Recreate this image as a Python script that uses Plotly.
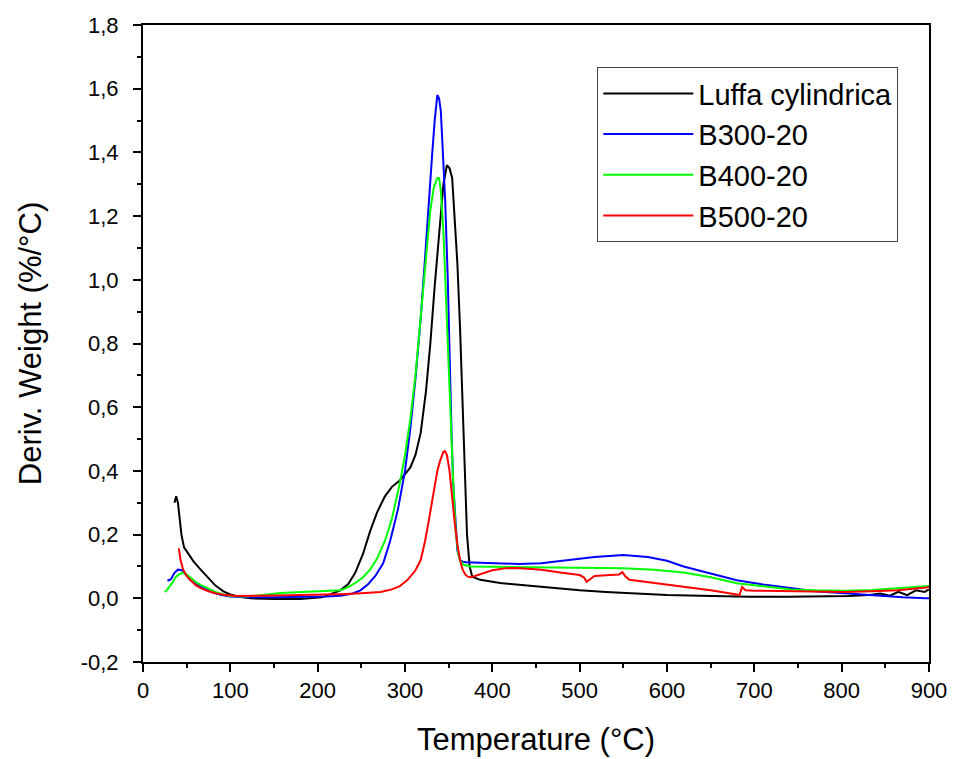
import plotly.graph_objects as go

# ---- data ----
luffa_T = [36, 38, 40, 44, 47, 51, 58, 66, 75, 83, 92, 100, 110, 123, 150, 180, 205, 226, 235, 243, 252, 260, 268, 277, 285, 294, 300, 306, 312, 318, 324, 329, 334, 340, 344, 348, 351, 354, 357, 360, 363, 366, 369, 371, 374, 377, 386, 409, 440, 466, 500, 530, 560, 600, 638, 660, 695, 740, 782, 809, 830, 844, 855, 865, 875, 885, 895, 900]
luffa_y = [0.30, 0.32, 0.30, 0.20, 0.16, 0.145, 0.115, 0.09, 0.062, 0.04, 0.022, 0.012, 0.005, 0.0, -0.002, -0.002, 0.003, 0.025, 0.045, 0.08, 0.14, 0.21, 0.27, 0.32, 0.35, 0.37, 0.39, 0.41, 0.45, 0.52, 0.65, 0.80, 0.98, 1.17, 1.30, 1.36, 1.35, 1.32, 1.20, 1.05, 0.85, 0.62, 0.38, 0.20, 0.10, 0.068, 0.058, 0.048, 0.04, 0.033, 0.025, 0.02, 0.015, 0.01, 0.008, 0.006, 0.005, 0.005, 0.006, 0.007, 0.01, 0.015, 0.008, 0.02, 0.01, 0.025, 0.02, 0.028]

b300_T = [28, 32, 36, 40, 45, 50, 54, 60, 70, 80, 90, 100, 120, 150, 180, 210, 226, 240, 249, 258, 266, 275, 283, 292, 300, 306, 312, 318, 323, 327, 331, 334, 337, 339, 341, 343, 346, 349, 351, 353, 355, 358, 360, 363, 366, 370, 380, 400, 430, 456, 490, 517, 550, 578, 600, 619, 650, 680, 710, 742, 770, 803, 844, 870, 896, 900]
b300_y = [0.055, 0.06, 0.08, 0.09, 0.088, 0.07, 0.058, 0.045, 0.03, 0.018, 0.01, 0.006, 0.003, 0.003, 0.004, 0.006, 0.008, 0.015, 0.025, 0.045, 0.07, 0.11, 0.18, 0.28, 0.40, 0.53, 0.69, 0.88, 1.07, 1.24, 1.39, 1.50, 1.58, 1.57, 1.53, 1.42, 1.25, 1.00, 0.75, 0.55, 0.37, 0.22, 0.15, 0.12, 0.115, 0.113, 0.112, 0.11, 0.108, 0.11, 0.12, 0.13, 0.136, 0.13, 0.118, 0.10, 0.078, 0.057, 0.043, 0.031, 0.022, 0.016, 0.007, 0.003, 0.0, 0.0]

b400_T = [25, 28, 31, 34, 37, 41, 45, 50, 54, 60, 66, 75, 83, 92, 100, 115, 130, 157, 180, 205, 226, 235, 243, 252, 260, 268, 277, 285, 294, 300, 306, 312, 318, 324, 329, 333, 337, 339, 341, 344, 347, 350, 352, 355, 358, 361, 363, 366, 369, 375, 400, 456, 500, 550, 585, 619, 650, 680, 710, 742, 770, 803, 835, 864, 897, 900]
b400_y = [0.02, 0.028, 0.04, 0.05, 0.065, 0.075, 0.08, 0.075, 0.066, 0.052, 0.042, 0.03, 0.02, 0.012, 0.007, 0.006, 0.008, 0.017, 0.02, 0.022, 0.025, 0.035, 0.048, 0.066, 0.09, 0.125, 0.18, 0.25, 0.36, 0.45, 0.56, 0.70, 0.88, 1.05, 1.22, 1.29, 1.32, 1.32, 1.28, 1.15, 0.94, 0.72, 0.56, 0.38, 0.21, 0.14, 0.12, 0.108, 0.104, 0.10, 0.099, 0.097, 0.095, 0.094, 0.09, 0.081, 0.066, 0.047, 0.038, 0.028, 0.025, 0.024, 0.026, 0.031, 0.038, 0.039]

b500_T = [41, 43, 46, 50, 54, 60, 66, 75, 83, 95, 106, 130, 150, 180, 205, 226, 250, 272, 285, 294, 303, 312, 318, 323, 327, 331, 334, 337, 340, 344, 346, 348, 351, 354, 357, 360, 363, 366, 369, 372, 375, 380, 390, 400, 415, 427, 445, 456, 480, 500, 505, 508, 512, 517, 530, 545, 549, 552, 557, 580, 619, 650, 680, 683, 686, 690, 700, 742, 770, 803, 835, 864, 897, 900]
b500_y = [0.157, 0.12, 0.09, 0.07, 0.058, 0.042, 0.032, 0.022, 0.016, 0.01, 0.007, 0.007, 0.009, 0.01, 0.011, 0.013, 0.016, 0.02, 0.028, 0.038, 0.058, 0.088, 0.12, 0.18, 0.24, 0.31, 0.36, 0.40, 0.43, 0.46, 0.462, 0.45, 0.40, 0.31, 0.235, 0.17, 0.12, 0.09, 0.075, 0.068, 0.066, 0.07, 0.08, 0.088, 0.094, 0.095, 0.092, 0.09, 0.08, 0.073, 0.065, 0.052, 0.06, 0.07, 0.072, 0.075, 0.082, 0.07, 0.058, 0.05, 0.037, 0.025, 0.012, 0.01, 0.035, 0.025, 0.024, 0.022, 0.021, 0.02, 0.022, 0.025, 0.034, 0.036]

series = [
    ("Luffa cylindrica", luffa_T, luffa_y, "#000000"),
    ("B300-20", b300_T, b300_y, "#0000ff"),
    ("B400-20", b400_T, b400_y, "#00ff00"),
    ("B500-20", b500_T, b500_y, "#ff0000"),
]

x_ticks = list(range(0, 901, 100))
y_ticks = [-0.2, 0.0, 0.2, 0.4, 0.6, 0.8, 1.0, 1.2, 1.4, 1.6, 1.8]
y_ticktext = [f"{v:.1f}".replace(".", ",") for v in y_ticks]

FONT = "Liberation Sans, Arial, sans-serif"

fig = go.Figure()
for name, T, y, c in series:
    fig.add_trace(go.Scatter(x=T, y=y, mode="lines", name=name,
                             line=dict(color=c, width=2)))

axis_common = dict(
    showline=True, linecolor="black", linewidth=2, mirror=True,
    ticks="outside", ticklen=8, tickwidth=2, tickcolor="black",
    showgrid=False, zeroline=False,
    tickfont=dict(family=FONT, size=22, color="black"),
    minor=dict(ticks="outside", ticklen=4, tickwidth=2, tickcolor="black"),
)

fig.update_xaxes(range=[0, 900], tickvals=x_ticks,
                 title=dict(text="Temperature (°C)", font=dict(family=FONT, size=31, color="black"), standoff=26),
                 minor_dtick=50, **axis_common)
fig.update_yaxes(range=[-0.2, 1.8], tickvals=y_ticks, ticktext=y_ticktext,
                 ticklabelstandoff=10,
                 title=dict(text="Deriv. Weight (%/°C)", font=dict(family=FONT, size=31, color="black"), standoff=30),
                 minor_dtick=0.1, **axis_common)

fig.update_layout(
    width=954, height=759,
    paper_bgcolor="white", plot_bgcolor="white",
    margin=dict(l=143, r=25, t=25, b=97, autoexpand=False),
    font=dict(family=FONT, color="black"),
    legend=dict(x=0.578, y=0.934, xanchor="left", yanchor="top",
                bgcolor="white", bordercolor="#444444", borderwidth=1,
                font=dict(family=FONT, size=29, color="black"),
                itemwidth=90, tracegroupgap=0),
    showlegend=True,
)

fig.write_html("out.html")
